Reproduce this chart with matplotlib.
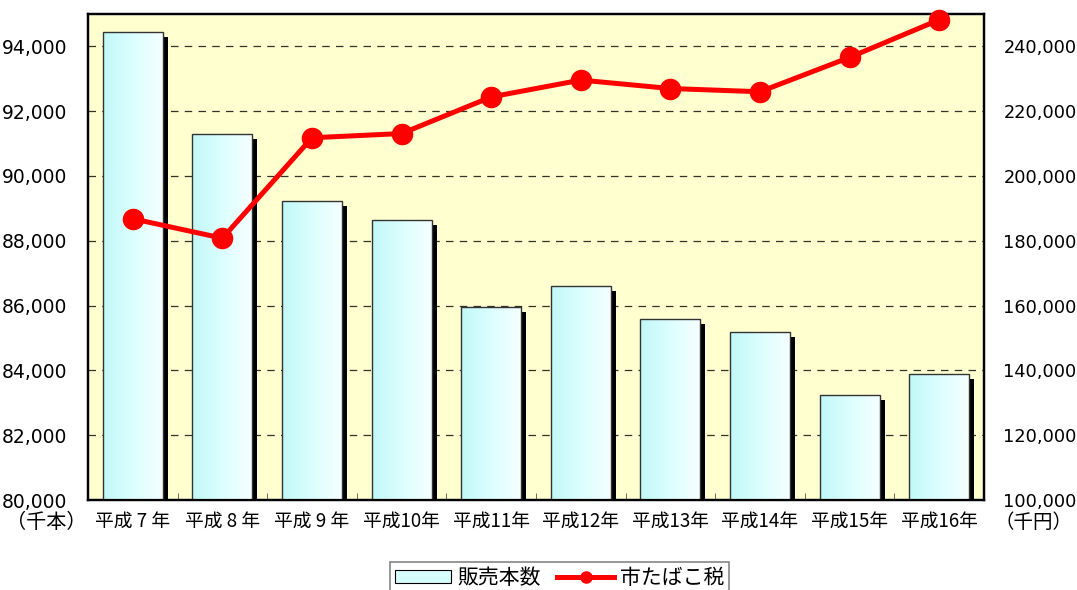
import matplotlib
matplotlib.use("Agg")
import matplotlib.pyplot as plt
import matplotlib.transforms as mtransforms
from matplotlib.ticker import FuncFormatter, FixedLocator
from matplotlib.patches import Patch
from matplotlib.lines import Line2D
import numpy as np

plt.rcParams['font.family'] = ['Noto Sans CJK JP', 'DejaVu Sans']

# ---------------------------------------------------------------------------
# DATA
# ---------------------------------------------------------------------------
years = ["平成 7 年", "平成 8 年", "平成 9 年", "平成10年", "平成11年",
         "平成12年", "平成13年", "平成14年", "平成15年", "平成16年"]
sales = [94430, 91300, 89220, 88640, 85960, 86600, 85600, 85190, 83240, 83890]   # 千本
tax = [186800, 180800, 211800, 213100, 224400, 229600, 227000, 226000, 236600, 248200]  # 千円

# ---------------------------------------------------------------------------
# FIGURE
# ---------------------------------------------------------------------------
fig = plt.figure(figsize=(10.77, 5.90), dpi=100)
ax = fig.add_axes([0.0817, 0.1525, 0.8319, 0.8238])
ax.set_facecolor("#ffffd0")
ax2 = ax.twinx()

x = np.arange(len(years))
w = 0.67

# shadow of the bars, shifted a few pixels right / down
shift = mtransforms.ScaledTranslation(5 / 100, -5 / 100, fig.dpi_scale_trans)
ax.bar(x, np.array(sales) - 80000, w, bottom=80000, color="black", zorder=2,
       transform=ax.transData + shift)

bars = ax.bar(x, np.array(sales) - 80000, w, bottom=80000, facecolor="none",
              edgecolor="#333333", linewidth=1, zorder=4)

grad = np.linspace(0, 1, 64).reshape(1, -1)
cmap = matplotlib.colors.LinearSegmentedColormap.from_list("cy", ["#c2f8f8", "#dcfefe", "#f6ffff"])
for b in bars:
    x0, y0 = b.get_x(), b.get_y()
    im = ax.imshow(grad, extent=[x0, x0 + b.get_width(), y0, y0 + b.get_height()],
                   cmap=cmap, aspect="auto", zorder=3, interpolation="bilinear")
    im.set_clip_path(b)

ax.set_xlim(-0.5, len(years) - 0.5)
ax.set_ylim(80000, 95000)
ax.set_yticks(np.arange(80000, 94001, 2000))
ax.yaxis.set_major_formatter(FuncFormatter(lambda v, p: f"{int(v):,}"))
ax.grid(axis="y", color="black", linestyle=(0, (6, 5)), linewidth=0.9, alpha=0.8)
ax.set_axisbelow(True)

ax.set_xticks(x)
ax.set_xticklabels(years, fontsize=13.5)
ax.xaxis.set_minor_locator(FixedLocator(np.arange(0.5, len(years) - 1, 1)))
ax.tick_params(axis="x", which="major", length=0, pad=8)
ax.tick_params(axis="x", which="minor", direction="in", length=5, color="#555555")
ax.tick_params(axis="y", length=0, pad=15)
for t in ax.get_yticklabels():
    t.set_fontfamily("DejaVu Sans")
    t.set_fontsize(13.5)

# line : 市たばこ税
ax2.plot(x, tax, color="#ff0000", linewidth=3.6, marker="o", markersize=14.5,
         zorder=5, clip_on=False)
ax2.set_ylim(100000, 250000)
ax2.set_yticks(np.arange(100000, 240001, 20000))
ax2.yaxis.set_major_formatter(FuncFormatter(lambda v, p: f"{int(v):,}"))
ax2.tick_params(axis="y", length=0, pad=14)
for t in ax2.get_yticklabels():
    t.set_fontfamily("DejaVu Sans")
    t.set_fontsize(12.8)

for a in (ax, ax2):
    for s in a.spines.values():
        s.set_linewidth(1.6)
        s.set_color("black")

fig.text(0.043, 0.115, "（千本）", fontsize=14.5, ha="center", va="center")
fig.text(0.960, 0.115, "（千円）", fontsize=14, ha="center", va="center")

# legend
handles = [Patch(facecolor="#d6fcfc", edgecolor="black", linewidth=0.8),
           Line2D([0], [0], color="#ff0000", linewidth=3.6, marker="o", markersize=8)]
leg = fig.legend(handles, ["販売本数", "市たばこ税"], loc="upper center",
                 bbox_to_anchor=(0.5195, 0.0475), ncol=2, fontsize=15, frameon=True,
                 fancybox=False, edgecolor="#666666", borderpad=0.25, borderaxespad=0,
                 handlelength=2.7, handleheight=0.6, handletextpad=0.3, columnspacing=0.8)
leg.get_frame().set_linewidth(1.2)

fig.savefig("out.png", dpi=100)
